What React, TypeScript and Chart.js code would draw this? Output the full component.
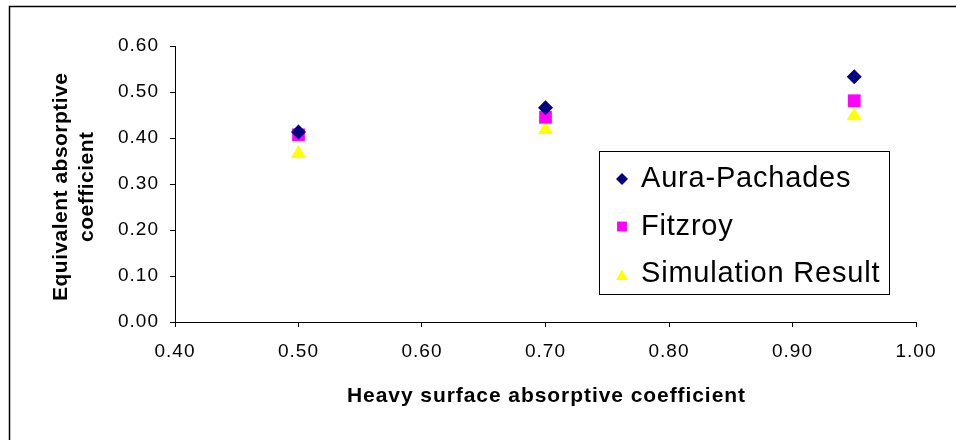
import React, { useEffect, useRef } from 'react';
import { Chart, registerables } from 'chart.js';

Chart.register(...registerables);

// ---- data ----
const xValues = [0.5, 0.7, 0.95];
const auraPachades = [0.413, 0.466, 0.533];
const fitzroy = [0.407, 0.445, 0.481];
const simulationResult = [0.366, 0.418, 0.448];
const seriesNames = ['Aura-Pachades', 'Fitzroy', 'Simulation Result'];
const xTitle = 'Heavy surface absorptive coefficient';
const yTitleLines = ['Equivalent absorptive', 'coefficient'];
const xMin = 0.4;
const xMax = 1.0;
const yMin = 0;
const yMax = 0.6;
const tickStep = 0.1;

const FONT = '"Liberation Sans", Arial, sans-serif';

function drawMarker(ctx: CanvasRenderingContext2D, style: string, x: number, y: number, r: number, color: string) {
  ctx.beginPath();
  if (style === 'rectRot') {
    ctx.moveTo(x - r, y);
    ctx.lineTo(x, y - r);
    ctx.lineTo(x + r, y);
    ctx.lineTo(x, y + r);
    ctx.closePath();
  } else if (style === 'rect') {
    const s = r * Math.SQRT1_2;
    ctx.rect(x - s, y - s, 2 * s, 2 * s);
  } else {
    ctx.moveTo(x, y - r);
    ctx.lineTo(x + r * 0.866, y + r / 2);
    ctx.lineTo(x - r * 0.866, y + r / 2);
    ctx.closePath();
  }
  ctx.fillStyle = color;
  ctx.fill();
}

function fitText(ctx: CanvasRenderingContext2D, text: string, x: number, y: number, target: number) {
  (ctx as any).letterSpacing = '0px';
  const w = ctx.measureText(text).width;
  const sp = (target - w) / Math.max(1, text.length - 1);
  (ctx as any).letterSpacing = sp + 'px';
  ctx.textAlign = 'left';
  ctx.fillText(text, x, y);
  (ctx as any).letterSpacing = '0px';
}

const decorPlugin = {
  id: 'decor',
  beforeDraw(chart: any) {
    (chart.ctx as any).letterSpacing = '1px';
  },
  afterDraw(chart: any) {
    const ctx: CanvasRenderingContext2D = chart.ctx;
    ctx.save();
    (ctx as any).letterSpacing = '0px';
    // outer frame
    ctx.strokeStyle = '#000';
    ctx.lineWidth = 1.5;
    ctx.strokeRect(9.5, 6.5, 2000, 2000);

    // axis titles
    ctx.fillStyle = '#000';
    ctx.font = 'bold 21px ' + FONT;
    ctx.textBaseline = 'middle';
    fitText(ctx, xTitle, 347, 396, 398);

    const yLineX = [61, 87];
    const yLineW = [228, 110];
    yTitleLines.forEach((t, i) => {
      ctx.save();
      ctx.translate(yLineX[i], 187);
      ctx.rotate(-Math.PI / 2);
      fitText(ctx, t, -yLineW[i] / 2, 0, yLineW[i]);
      ctx.restore();
    });

    // legend
    ctx.strokeStyle = '#000';
    ctx.lineWidth = 1;
    ctx.strokeRect(599.5, 151.5, 290, 143);
    const rowMarkerY = [179, 226.5, 276.5];
    const rowTextY = [187, 235, 282];
    const legendR = [6, 7, 7];
    ctx.font = '29px ' + FONT;
    ctx.textBaseline = 'alphabetic';
    chart.data.datasets.forEach((ds: any, i: number) => {
      drawMarker(ctx, ds.pointStyle, 622, rowMarkerY[i], legendR[i], ds.backgroundColor);
      ctx.fillStyle = '#000';
      (ctx as any).letterSpacing = '0.8px';
      ctx.textAlign = 'left';
      ctx.fillText(ds.label, 641, rowTextY[i]);
      (ctx as any).letterSpacing = '0px';
    });
    ctx.restore();
  },
};

export default function App() {
  const ref = useRef<HTMLCanvasElement>(null);
  useEffect(() => {
    const toPts = (ys: number[]) => xValues.map((x, i) => ({ x, y: ys[i] }));
    const chart = new Chart(ref.current as HTMLCanvasElement, {
      type: 'scatter',
      data: {
        datasets: [
          {
            label: seriesNames[0],
            data: toPts(auraPachades),
            pointStyle: 'rectRot',
            pointRadius: 7.5,
            backgroundColor: '#000080',
            borderColor: '#000080',
            borderWidth: 0,
          },
          {
            label: seriesNames[1],
            data: toPts(fitzroy),
            pointStyle: 'rect',
            pointRadius: 9,
            backgroundColor: '#FF00FF',
            borderColor: '#FF00FF',
            borderWidth: 0,
          },
          {
            label: seriesNames[2],
            data: toPts(simulationResult),
            pointStyle: 'triangle',
            pointRadius: 8.7,
            backgroundColor: '#FFFF00',
            borderColor: '#FFFF00',
            borderWidth: 0,
          },
        ],
      },
      options: {
        animation: false,
        responsive: false,
        devicePixelRatio: 1,
        layout: { padding: { left: 0, top: 46, right: 40, bottom: 0 } },
        plugins: { legend: { display: false }, tooltip: { enabled: false } },
        scales: {
          x: {
            type: 'linear',
            min: xMin,
            max: xMax,
            afterFit: (s: any) => { s.height = 118; },
            ticks: {
              stepSize: tickStep,
              color: '#000',
              font: { size: 19, family: FONT },
              padding: 13,
              maxRotation: 0,
              callback: (v: any) => Number(v).toFixed(2),
            },
            grid: { drawOnChartArea: false, drawTicks: true, tickLength: 5, color: '#000' },
            border: { display: true, color: '#000', width: 1 },
          },
          y: {
            type: 'linear',
            min: yMin,
            max: yMax,
            afterFit: (s: any) => { s.width = 175; },
            ticks: {
              stepSize: tickStep,
              color: '#000',
              font: { size: 19, family: FONT },
              padding: 11,
              callback: (v: any) => Number(v).toFixed(2),
            },
            grid: { drawOnChartArea: false, drawTicks: true, tickLength: 5, color: '#000' },
            border: { display: true, color: '#000', width: 1 },
          },
        },
      },
      plugins: [decorPlugin],
    } as any);
    return () => chart.destroy();
  }, []);
  return (
    <div style={{ position: 'absolute', left: 0, top: 0, width: 956, height: 440, background: '#fff' }}>
      <canvas ref={ref} width={956} height={440} style={{ display: 'block', width: 956, height: 440 }} />
    </div>
  );
}
